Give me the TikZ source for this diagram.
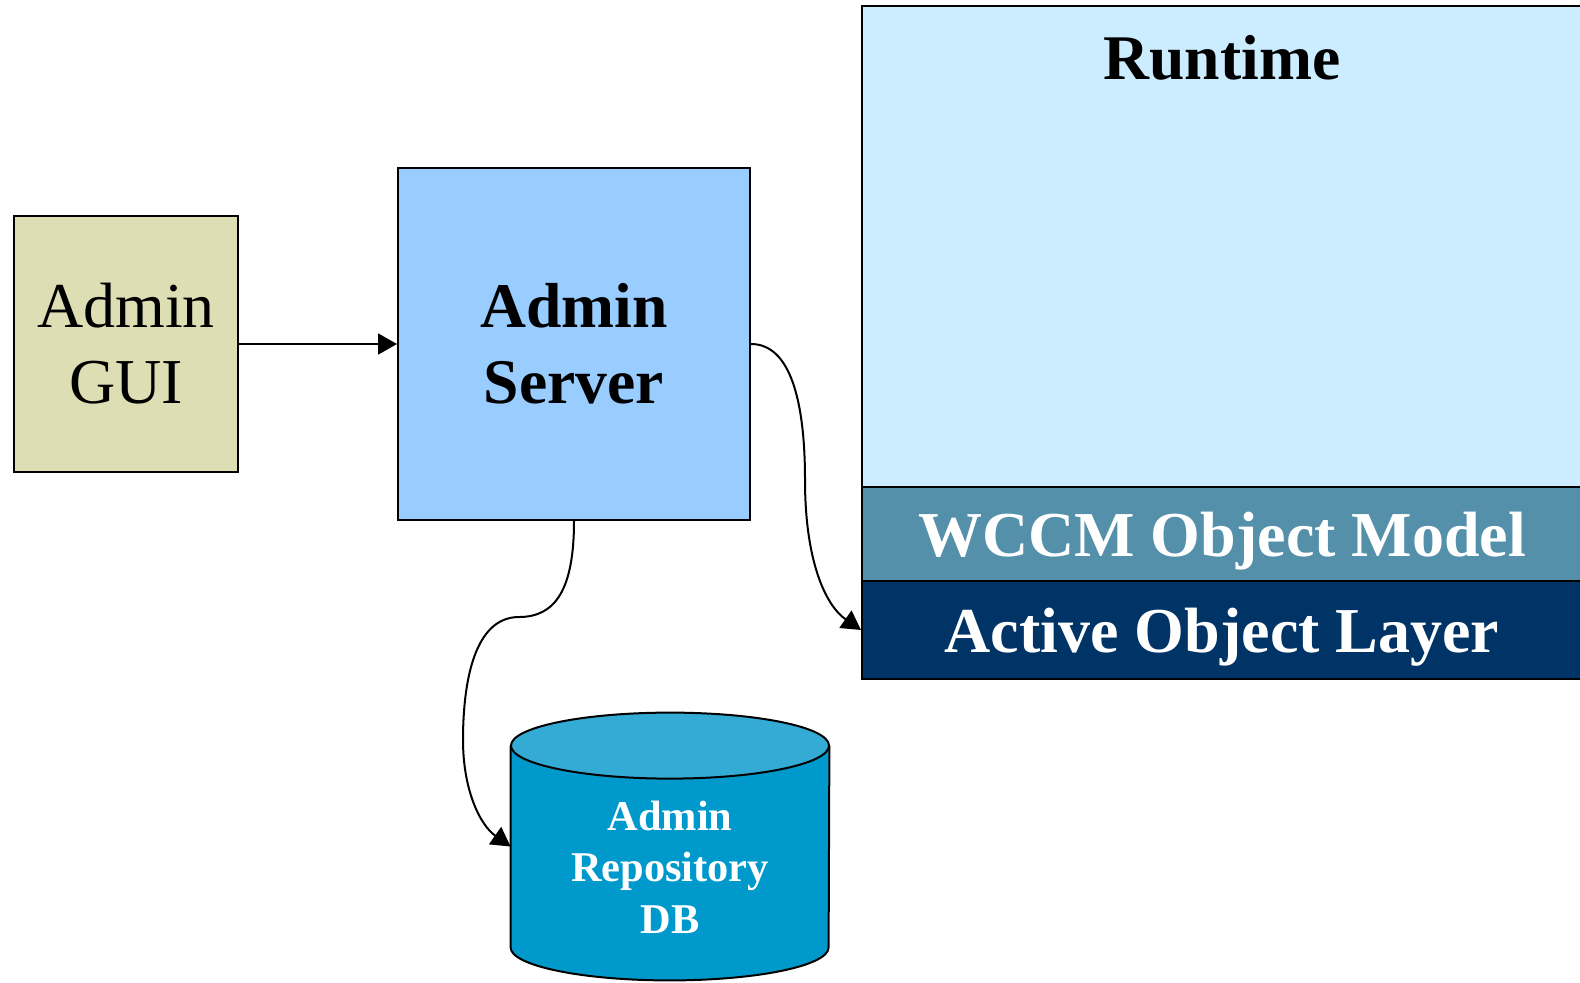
\documentclass[tikz,border=0pt]{standalone}
\usepackage{fontspec}
\setmainfont{Liberation Serif}
\usetikzlibrary{positioning,arrows.meta}
\definecolor{guifill}{RGB}{222,222,180}
\definecolor{srvfill}{RGB}{153,204,255}
\definecolor{rtfill}{RGB}{204,236,255}
\definecolor{wccmfill}{RGB}{84,144,170}
\definecolor{aolfill}{RGB}{0,51,102}
\definecolor{dbbody}{RGB}{0,153,204}
\definecolor{dbtop}{RGB}{51,171,213}
\tikzset{
  box/.style={draw=black,line width=1pt,inner sep=0pt},
  layer/.style={box,minimum width=360pt,text=white,text depth=0pt,
    font=\fontsize{32}{36}\selectfont\bfseries},
  link/.style={line width=1pt,-{Triangle[length=9.5pt,width=10.5pt]}}
}
\begin{document}
\begin{tikzpicture}[x=0.5pt,y=-0.5pt]
  \clip (0,0) rectangle (1580,982);
  % admin side
  \node[box,fill=guifill,minimum width=112pt,minimum height=128pt,align=center,
        font=\fontsize{32}{38}\selectfont] (gui) at (126,344) {Admin\\GUI};
  \node[box,fill=srvfill,minimum width=176pt,minimum height=176pt,align=center,
        font=\fontsize{31.8}{38}\selectfont\bfseries] (srv) at (574,344) {Admin\\Server};
  % runtime stack
  \node[box,fill=rtfill,minimum width=360pt,minimum height=240.5pt] (rt) at (1222,246.5) {};
  \node[anchor=base,font=\fontsize{31.8}{36}\selectfont\bfseries] (rtlbl) at (1222,79) {Runtime};
  \node[layer,fill=wccmfill,minimum height=47pt] (wccm) at (1222,534) {WCCM Object Model};
  \node[layer,fill=aolfill,minimum height=49pt] (aol) at (1222,630) {Active Object Layer};
  % repository (body first, then the lid)
  \node[minimum width=159pt,minimum height=100.5pt,inner sep=0pt] (db) at (670,846.5) {};
  \filldraw[fill=dbbody,line width=1pt] (db.north west) -- (db.south west)
    arc (180:0:159 and 33) -- (db.north east);
  \filldraw[fill=dbtop,line width=1pt] (db.north) ellipse (159 and 33);
  \node[align=center,text=white,font=\fontsize{21.2}{25.8}\selectfont\bfseries] (dblbl) at (670,867) {Admin\\Repository\\DB};
  % connectors
  \draw[link] (gui) -- (srv);
  \draw[link] (srv.east) .. controls (790,344) and (805,400) .. (805,480)
    .. controls (805,560) and (825,605) .. (aol.west);
  \draw[link] (srv.south) .. controls (574,590) and (555,617) .. (519,617)
    .. controls (475,617) and (463,680) .. (463,740)
    .. controls (463,790) and (480,825) .. (db.west);
\end{tikzpicture}
\end{document}
